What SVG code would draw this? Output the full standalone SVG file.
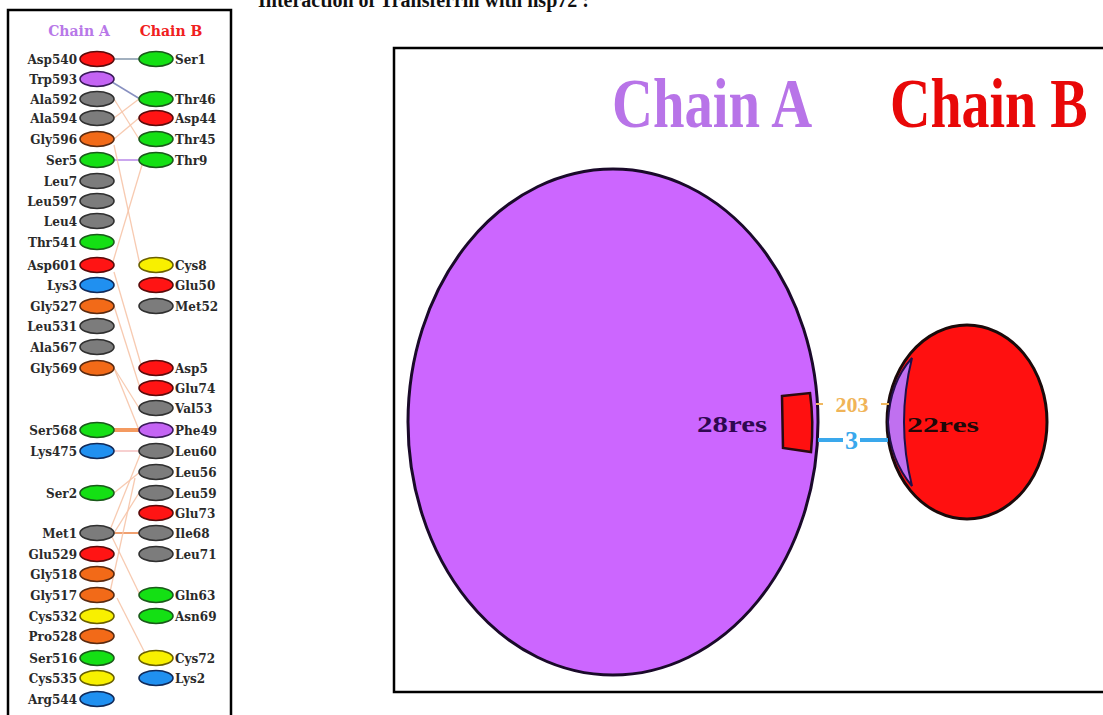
<svg xmlns="http://www.w3.org/2000/svg" width="1103" height="715" viewBox="0 0 1103 715">
<style>
.lbl{font-family:"DejaVu Serif","Liberation Serif",serif;font-weight:bold;font-size:12px;fill:#2a2a2a}
.l{text-anchor:end}
.n{stroke-width:1.6}
.red{fill:#ff1414;stroke:#5a0a0a}
.grn{fill:#14e014;stroke:#1a5a1a}
.gry{fill:#7c7c7c;stroke:#303030}
.org{fill:#f26a18;stroke:#5a2a10}
.pur{fill:#c464f4;stroke:#3a1a5a}
.yel{fill:#f8f000;stroke:#6a6000}
.blu{fill:#2090f0;stroke:#102a5a}
.pc{stroke:#f6c4a8;stroke-width:1.3;fill:none;opacity:0.9}
.big{font-family:"Liberation Serif",serif;font-weight:bold;font-size:70px}
</style>
<rect width="1103" height="715" fill="#ffffff"/>
<text x="258" y="7" font-family="Liberation Serif,serif" font-weight="bold" font-size="20" fill="#111">Interaction of Transferrin with hsp72 :</text>
<rect x="8" y="10" width="223" height="720" fill="none" stroke="#000" stroke-width="2.5"/>
<text x="79" y="36" class="lbl" style="fill:#b878e8;font-size:14px" text-anchor="middle">Chain A</text>
<text x="171" y="36" class="lbl" style="fill:#f02020;font-size:14px" text-anchor="middle">Chain B</text>
<g id="connectors">
<line x1="114" y1="59" x2="139" y2="59" stroke="#98a8b8" stroke-width="1.8"/>
<line x1="112" y1="82" x2="140" y2="99" stroke="#8890c0" stroke-width="1.5"/>
<line x1="114" y1="99" x2="139" y2="139" class="pc"/>
<line x1="114" y1="118" x2="139" y2="99" class="pc"/>
<line x1="114" y1="139" x2="139" y2="118" class="pc"/>
<line x1="114" y1="160" x2="139" y2="160" stroke="#b888e8" stroke-width="1.5"/>
<line x1="142" y1="165" x2="112" y2="265" class="pc"/>
<line x1="114" y1="145" x2="140" y2="265" class="pc"/>
<line x1="114" y1="272" x2="142" y2="368" class="pc"/>
<line x1="114" y1="306" x2="140" y2="388" class="pc"/>
<line x1="114" y1="368" x2="139" y2="408" class="pc"/>
<line x1="114" y1="368" x2="139" y2="430" class="pc"/>
<line x1="114" y1="430" x2="139" y2="430" stroke="#f49a60" stroke-width="4"/>
<line x1="114" y1="451" x2="139" y2="451" stroke="#f4c0c0" stroke-width="1.5"/>
<line x1="114" y1="493" x2="140" y2="472" class="pc"/>
<line x1="110" y1="530" x2="140" y2="455" class="pc"/>
<line x1="114" y1="533" x2="139" y2="493" class="pc"/>
<line x1="114" y1="533" x2="139" y2="533" stroke="#f0a070" stroke-width="2"/>
<line x1="112" y1="537" x2="140" y2="595" class="pc"/>
<line x1="135" y1="478" x2="110" y2="592" class="pc"/>
<line x1="117" y1="598" x2="146" y2="655" class="pc"/>
</g>
<g id="chainA-residues">
<g id="Asp540"><ellipse class="n red" cx="97" cy="59" rx="17" ry="7.5"/><text class="lbl l" x="77" y="63.5">Asp540</text></g>
<g id="Trp593"><ellipse class="n pur" cx="97" cy="79" rx="17" ry="7.5"/><text class="lbl l" x="77" y="83.5">Trp593</text></g>
<g id="Ala592"><ellipse class="n gry" cx="97" cy="99" rx="17" ry="7.5"/><text class="lbl l" x="77" y="103.5">Ala592</text></g>
<g id="Ala594"><ellipse class="n gry" cx="97" cy="118" rx="17" ry="7.5"/><text class="lbl l" x="77" y="122.5">Ala594</text></g>
<g id="Gly596"><ellipse class="n org" cx="97" cy="139" rx="17" ry="7.5"/><text class="lbl l" x="77" y="143.5">Gly596</text></g>
<g id="Ser5"><ellipse class="n grn" cx="97" cy="160" rx="17" ry="7.5"/><text class="lbl l" x="77" y="164.5">Ser5</text></g>
<g id="Leu7"><ellipse class="n gry" cx="97" cy="181" rx="17" ry="7.5"/><text class="lbl l" x="77" y="185.5">Leu7</text></g>
<g id="Leu597"><ellipse class="n gry" cx="97" cy="201" rx="17" ry="7.5"/><text class="lbl l" x="77" y="205.5">Leu597</text></g>
<g id="Leu4"><ellipse class="n gry" cx="97" cy="221" rx="17" ry="7.5"/><text class="lbl l" x="77" y="225.5">Leu4</text></g>
<g id="Thr541"><ellipse class="n grn" cx="97" cy="242" rx="17" ry="7.5"/><text class="lbl l" x="77" y="246.5">Thr541</text></g>
<g id="Asp601"><ellipse class="n red" cx="97" cy="265" rx="17" ry="7.5"/><text class="lbl l" x="77" y="269.5">Asp601</text></g>
<g id="Lys3"><ellipse class="n blu" cx="97" cy="285" rx="17" ry="7.5"/><text class="lbl l" x="77" y="289.5">Lys3</text></g>
<g id="Gly527"><ellipse class="n org" cx="97" cy="306" rx="17" ry="7.5"/><text class="lbl l" x="77" y="310.5">Gly527</text></g>
<g id="Leu531"><ellipse class="n gry" cx="97" cy="326" rx="17" ry="7.5"/><text class="lbl l" x="77" y="330.5">Leu531</text></g>
<g id="Ala567"><ellipse class="n gry" cx="97" cy="347" rx="17" ry="7.5"/><text class="lbl l" x="77" y="351.5">Ala567</text></g>
<g id="Gly569"><ellipse class="n org" cx="97" cy="368" rx="17" ry="7.5"/><text class="lbl l" x="77" y="372.5">Gly569</text></g>
<g id="Ser568"><ellipse class="n grn" cx="97" cy="430" rx="17" ry="7.5"/><text class="lbl l" x="77" y="434.5">Ser568</text></g>
<g id="Lys475"><ellipse class="n blu" cx="97" cy="451" rx="17" ry="7.5"/><text class="lbl l" x="77" y="455.5">Lys475</text></g>
<g id="Ser2"><ellipse class="n grn" cx="97" cy="493" rx="17" ry="7.5"/><text class="lbl l" x="77" y="497.5">Ser2</text></g>
<g id="Met1"><ellipse class="n gry" cx="97" cy="533" rx="17" ry="7.5"/><text class="lbl l" x="77" y="537.5">Met1</text></g>
<g id="Glu529"><ellipse class="n red" cx="97" cy="554" rx="17" ry="7.5"/><text class="lbl l" x="77" y="558.5">Glu529</text></g>
<g id="Gly518"><ellipse class="n org" cx="97" cy="574" rx="17" ry="7.5"/><text class="lbl l" x="77" y="578.5">Gly518</text></g>
<g id="Gly517"><ellipse class="n org" cx="97" cy="595" rx="17" ry="7.5"/><text class="lbl l" x="77" y="599.5">Gly517</text></g>
<g id="Cys532"><ellipse class="n yel" cx="97" cy="616" rx="17" ry="7.5"/><text class="lbl l" x="77" y="620.5">Cys532</text></g>
<g id="Pro528"><ellipse class="n org" cx="97" cy="636" rx="17" ry="7.5"/><text class="lbl l" x="77" y="640.5">Pro528</text></g>
<g id="Ser516"><ellipse class="n grn" cx="97" cy="658" rx="17" ry="7.5"/><text class="lbl l" x="77" y="662.5">Ser516</text></g>
<g id="Cys535"><ellipse class="n yel" cx="97" cy="678" rx="17" ry="7.5"/><text class="lbl l" x="77" y="682.5">Cys535</text></g>
<g id="Arg544"><ellipse class="n blu" cx="97" cy="699" rx="17" ry="7.5"/><text class="lbl l" x="77" y="703.5">Arg544</text></g>
</g>
<g id="chainB-residues">
<g id="Ser1"><ellipse class="n grn" cx="156" cy="59" rx="17" ry="7.5"/><text class="lbl" x="175" y="63.5">Ser1</text></g>
<g id="Thr46"><ellipse class="n grn" cx="156" cy="99" rx="17" ry="7.5"/><text class="lbl" x="175" y="103.5">Thr46</text></g>
<g id="Asp44"><ellipse class="n red" cx="156" cy="118" rx="17" ry="7.5"/><text class="lbl" x="175" y="122.5">Asp44</text></g>
<g id="Thr45"><ellipse class="n grn" cx="156" cy="139" rx="17" ry="7.5"/><text class="lbl" x="175" y="143.5">Thr45</text></g>
<g id="Thr9"><ellipse class="n grn" cx="156" cy="160" rx="17" ry="7.5"/><text class="lbl" x="175" y="164.5">Thr9</text></g>
<g id="Cys8"><ellipse class="n yel" cx="156" cy="265" rx="17" ry="7.5"/><text class="lbl" x="175" y="269.5">Cys8</text></g>
<g id="Glu50"><ellipse class="n red" cx="156" cy="285" rx="17" ry="7.5"/><text class="lbl" x="175" y="289.5">Glu50</text></g>
<g id="Met52"><ellipse class="n gry" cx="156" cy="306" rx="17" ry="7.5"/><text class="lbl" x="175" y="310.5">Met52</text></g>
<g id="Asp5"><ellipse class="n red" cx="156" cy="368" rx="17" ry="7.5"/><text class="lbl" x="175" y="372.5">Asp5</text></g>
<g id="Glu74"><ellipse class="n red" cx="156" cy="388" rx="17" ry="7.5"/><text class="lbl" x="175" y="392.5">Glu74</text></g>
<g id="Val53"><ellipse class="n gry" cx="156" cy="408" rx="17" ry="7.5"/><text class="lbl" x="175" y="412.5">Val53</text></g>
<g id="Phe49"><ellipse class="n pur" cx="156" cy="430" rx="17" ry="7.5"/><text class="lbl" x="175" y="434.5">Phe49</text></g>
<g id="Leu60"><ellipse class="n gry" cx="156" cy="451" rx="17" ry="7.5"/><text class="lbl" x="175" y="455.5">Leu60</text></g>
<g id="Leu56"><ellipse class="n gry" cx="156" cy="472" rx="17" ry="7.5"/><text class="lbl" x="175" y="476.5">Leu56</text></g>
<g id="Leu59"><ellipse class="n gry" cx="156" cy="493" rx="17" ry="7.5"/><text class="lbl" x="175" y="497.5">Leu59</text></g>
<g id="Glu73"><ellipse class="n red" cx="156" cy="513" rx="17" ry="7.5"/><text class="lbl" x="175" y="517.5">Glu73</text></g>
<g id="Ile68"><ellipse class="n gry" cx="156" cy="533" rx="17" ry="7.5"/><text class="lbl" x="175" y="537.5">Ile68</text></g>
<g id="Leu71"><ellipse class="n gry" cx="156" cy="554" rx="17" ry="7.5"/><text class="lbl" x="175" y="558.5">Leu71</text></g>
<g id="Gln63"><ellipse class="n grn" cx="156" cy="595" rx="17" ry="7.5"/><text class="lbl" x="175" y="599.5">Gln63</text></g>
<g id="Asn69"><ellipse class="n grn" cx="156" cy="616" rx="17" ry="7.5"/><text class="lbl" x="175" y="620.5">Asn69</text></g>
<g id="Cys72"><ellipse class="n yel" cx="156" cy="658" rx="17" ry="7.5"/><text class="lbl" x="175" y="662.5">Cys72</text></g>
<g id="Lys2"><ellipse class="n blu" cx="156" cy="678" rx="17" ry="7.5"/><text class="lbl" x="175" y="682.5">Lys2</text></g>
</g>
<rect x="394" y="48" width="730" height="644" fill="none" stroke="#000" stroke-width="2.5"/>
<text class="big" transform="translate(612,127) scale(0.81,1)" fill="#b874e8">Chain A</text>
<text class="big" transform="translate(890,127) scale(0.8,1)" fill="#e80808">Chain B</text>
<g id="chainA">
<ellipse cx="613" cy="422" rx="205" ry="253" fill="#cc66ff" stroke="#1a0a2a" stroke-width="3"/>
<path d="M782,396 L810,393 Q814,422 811,452 L783,448 Z" fill="#ff1010" stroke="#2a0a10" stroke-width="2.5"/>
<text x="697" y="432" font-family="Liberation Serif,serif" font-weight="bold" font-size="24" fill="#2e0850" textLength="70" lengthAdjust="spacingAndGlyphs">28res</text>
</g>
<g id="chainB">
<ellipse cx="967" cy="422" rx="80" ry="97" fill="#ff1010" stroke="#1a0a0a" stroke-width="3"/>
<path d="M912,358 Q896,422 912,486 Q890,460 888,422 Q890,382 912,358 Z" fill="#c070f0" stroke="#20104a" stroke-width="2"/>
<text x="907" y="432" font-family="Liberation Serif,serif" font-weight="bold" font-size="22" fill="#200808" textLength="72" lengthAdjust="spacingAndGlyphs">22res</text>
</g>
<g id="interface">
<line x1="816" y1="404" x2="823" y2="404" stroke="#f0b860" stroke-width="2"/>
<line x1="881" y1="404" x2="889" y2="404" stroke="#f0b860" stroke-width="2"/>
<text x="852" y="412" font-family="Liberation Serif,serif" font-weight="bold" font-size="22" fill="#f0b458" text-anchor="middle">203</text>
<line x1="818" y1="440" x2="843" y2="440" stroke="#3aa8ec" stroke-width="4"/>
<line x1="860" y1="440" x2="888" y2="440" stroke="#3aa8ec" stroke-width="4"/>
<text x="851.5" y="449" font-family="Liberation Serif,serif" font-weight="bold" font-size="26" fill="#3aa8ec" text-anchor="middle">3</text>
</g>
</svg>
